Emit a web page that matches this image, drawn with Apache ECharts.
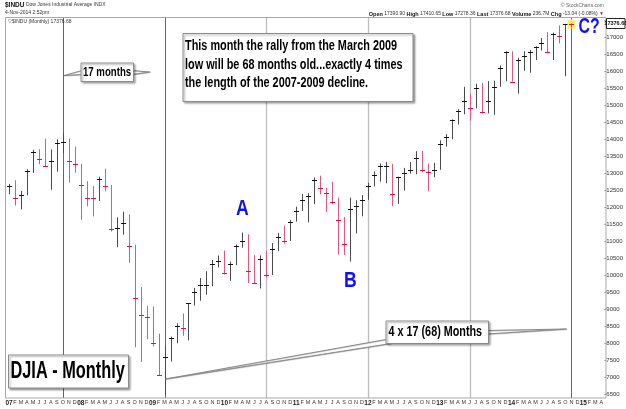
<!DOCTYPE html>
<html><head><meta charset="utf-8">
<script src="https://cdn.jsdelivr.net/npm/echarts@6/dist/echarts.min.js"></script>
<style>html,body{margin:0;padding:0;background:#fff}#c{width:626px;height:409px}</style>
</head><body><div id="c"></div>
<script>
// Month categories Jan 2007 .. Apr 2015
const months = [
'2007-01','2007-02','2007-03','2007-04','2007-05','2007-06','2007-07','2007-08','2007-09','2007-10','2007-11','2007-12',
'2008-01','2008-02','2008-03','2008-04','2008-05','2008-06','2008-07','2008-08','2008-09','2008-10','2008-11','2008-12',
'2009-01','2009-02','2009-03','2009-04','2009-05','2009-06','2009-07','2009-08','2009-09','2009-10','2009-11','2009-12',
'2010-01','2010-02','2010-03','2010-04','2010-05','2010-06','2010-07','2010-08','2010-09','2010-10','2010-11','2010-12',
'2011-01','2011-02','2011-03','2011-04','2011-05','2011-06','2011-07','2011-08','2011-09','2011-10','2011-11','2011-12',
'2012-01','2012-02','2012-03','2012-04','2012-05','2012-06','2012-07','2012-08','2012-09','2012-10','2012-11','2012-12',
'2013-01','2013-02','2013-03','2013-04','2013-05','2013-06','2013-07','2013-08','2013-09','2013-10','2013-11','2013-12',
'2014-01','2014-02','2014-03','2014-04','2014-05','2014-06','2014-07','2014-08','2014-09','2014-10','2014-11','2014-12',
'2015-01','2015-02','2015-03','2015-04'];
const monthLetters = ['J','F','M','A','M','J','J','A','S','O','N','D'];

// Monthly HLC, Jan 2007 .. Nov 2014
const highs = [
12687,12795,12482,13121,13692,13706,14022,13700,14000,14198,14021,13786,
13280,12768,12622,12901,13137,12657,11703,11870,11790,10900,9654,9100,
9088,8281,7925,8197,8588,8878,9172,9631,9918,10119,10450,10580,
10729,10403,10907,11258,11205,10594,10584,10720,10948,11247,11451,11625,
12020,12391,12419,12876,12929,12570,12753,12285,11716,12284,12208,12360,
12721,13055,13289,13338,13280,12901,13159,13331,13653,13662,13290,13308,
13969,14150,14585,14888,15542,15340,15634,15658,15710,15721,16175,16588,
16588,16398,16589,16632,16736,16978,17152,17136,17350,17395,17410];
const lows = [
12381,12050,11939,12354,13010,13266,13200,12518,13047,13599,12725,13021,
11634,12026,11731,12184,12467,11288,10827,11196,10365,7882,7450,8118,
7909,7050,6470,7465,8001,8221,8087,9111,9253,9430,9679,10236,
10021,9836,10297,10812,9774,9757,9614,9937,10010,10711,10929,11008,
11577,11892,11555,12093,12381,11862,12097,10605,10597,10404,11231,11735,
12218,12613,12755,12710,12035,12101,12492,12993,12975,13039,12471,12883,
13104,13784,14000,14434,14737,14551,14911,14760,14760,14720,15545,15704,
15699,15341,16016,15956,16334,16611,16563,16333,16821,15855,17278];
const closes = [
12622,12268,12354,13063,13628,13409,13212,13358,13896,13930,13372,13265,
12650,12266,12263,12820,12638,11350,11378,11544,10851,9325,8829,8776,
8001,7063,7609,8168,8500,8447,9172,9496,9712,9713,10345,10428,
10067,10325,10857,11009,10137,9774,10466,10015,10788,11118,11006,11578,
11892,12226,12320,12811,12570,12414,12143,11614,10913,11955,12046,12218,
12633,12952,13212,13214,12393,12880,13009,13091,13437,13096,13026,13104,
13861,14054,14579,14840,15116,14910,15500,14810,15130,15546,16086,16577,
15699,16322,16458,16581,16717,16827,16563,17098,17043,17391,17377];
const prevClose2006 = 12463;

// Cycle marker months (17-month spacing)
const markerMonths = ['2007-10','2009-03','2010-08','2012-01','2013-06','2014-11'];
const markerShade = ['dark','dark','light','light','light','dark'];

// y-axis ticks
const yMin = 6500, yMax = 17500, yStep = 500;
const plotTopValue = 17597, plotBottomValue = 6391;

const barData = closes.map((c, i) => {
  const prev = i === 0 ? prevClose2006 : closes[i - 1];
  return [i, highs[i], lows[i], c, c >= prev ? 1 : 0];
});
const markerData = markerMonths.map((m, k) => [months.indexOf(m), markerShade[k] === 'dark' ? 1 : 0]);
const lastIdx = closes.length - 1;

const chart = echarts.init(document.getElementById('c'), null, {renderer: 'canvas'});
const FONT = '"Liberation Sans", Arial, sans-serif';
const blue = '#1212ee';

function ctext(x, y, txt, size, scale, extra) {
  return Object.assign({
    type: 'text', x: x, y: y, scaleX: scale, z: 120,
    style: {text: txt, font: 'bold ' + size + 'px ' + FONT, fill: '#000', align: 'left', verticalAlign: 'middle'}
  }, extra || {});
}
function box(x, y, w, h) {
  return {type: 'rect', z: 110, shape: {x: x + 0.5, y: y + 0.5, width: w, height: h},
    style: {fill: '#fff', stroke: '#8a8a8a', lineWidth: 1, shadowColor: 'rgba(0,0,0,0.35)', shadowBlur: 2, shadowOffsetX: 1.5, shadowOffsetY: 1.5}};
}
function tail(points) {
  return {type: 'polygon', z: 105, shape: {points: points},
    style: {fill: '#fff', stroke: '#8a8a8a', lineWidth: 1, shadowColor: 'rgba(0,0,0,0.25)', shadowBlur: 1, shadowOffsetX: 0.5, shadowOffsetY: 0.5}};
}

const option = {
  animation: false,
  textStyle: {fontFamily: FONT},
  grid: {left: 6, right: 20, top: 20.3, bottom: 14.7},
  xAxis: {
    type: 'category', data: months, boundaryGap: true,
    axisLine: {show: false}, axisTick: {show: false}, splitLine: {show: false},
    axisLabel: {
      interval: 0, margin: 5, fontSize: 5.5, color: '#333', fontFamily: FONT,
      formatter: function (v) {
        const mm = parseInt(v.slice(5), 10);
        return mm === 1 ? '{y|' + v.slice(2, 4) + '}' : monthLetters[mm - 1];
      },
      rich: {y: {fontSize: 6.5, fontWeight: 'bold', color: '#222', fontFamily: FONT}}
    }
  },
  yAxis: {
    type: 'value', position: 'right', min: yMin, max: yMax, interval: yStep, scale: true,
    axisLine: {show: false},
    axisTick: {show: true, length: 2, lineStyle: {color: '#999'}},
    splitLine: {show: false},
    axisLabel: {margin: 2, fontSize: 6, color: '#333', fontFamily: FONT,
      formatter: v => (v === yMax ? '' : String(v))}
  },
  series: [
    {
      type: 'custom', name: 'markers', data: markerData, z: 1, clip: false,
      renderItem: function (params, api) {
        const idx = api.value(0);
        const x = Math.round(api.coord([idx, yMin])[0]) + 0.5;
        const yT = api.coord([idx, plotTopValue])[1];
        const yB = api.coord([idx, plotBottomValue])[1];
        const dark = api.value(1) > 0;
        return {type: 'line', shape: {x1: x, y1: yT, x2: x, y2: yB},
          style: {stroke: dark ? '#666' : '#bdbdbd', lineWidth: dark ? 1 : 1.3}};
      }
    },
    {
      type: 'custom', name: '$INDU', data: barData, z: 3, clip: false,
      renderItem: function (params, api) {
        const i = api.value(0);
        const hi = api.coord([i, api.value(1)]);
        const lo = api.coord([i, api.value(2)]);
        const cl = api.coord([i, api.value(3)]);
        const up = api.value(4) > 0;
        const x = Math.round(hi[0]) + 0.5;
        const yc = Math.round(cl[1]) + 0.5;
        const children = [];
        if (i === lastIdx) {
          children.push({type: 'rect', shape: {x: x - 4, y: yc - 5, width: 8, height: 9}, style: {fill: '#ffef6a'}});
        }
        children.push({type: 'line', shape: {x1: x, y1: hi[1], x2: x, y2: lo[1]},
          style: {stroke: up ? '#4a4a4a' : '#e0587c', lineWidth: 1}});
        children.push({type: 'line', shape: {x1: x - 2.5, y1: yc, x2: x + 2.5, y2: yc},
          style: {stroke: up ? '#111' : '#d4124a', lineWidth: 1}});
        return {type: 'group', children: children};
      }
    }
  ],
  graphic: [
    // plot frame
    {type: 'rect', z: 2, shape: {x: 5.5, y: 17.5, width: 600.5, height: 380.5}, style: {fill: 'none', stroke: '#a8a8a8', lineWidth: 1}},
    // header left
    {type: 'text', x: 5, y: 5, z: 120, style: {text: '{b|$INDU} Dow Jones Industrial Average INDX', font: '5px ' + FONT, fill: '#333', verticalAlign: 'middle',
      rich: {b: {fontSize: 6.5, fontWeight: 'bold', fill: '#111', fontFamily: FONT}}}},
    {type: 'text', x: 5, y: 13, z: 120, style: {text: '4-Nov-2014 2:52pm', font: '5px ' + FONT, fill: '#333', verticalAlign: 'middle'}},
    {type: 'text', x: 8, y: 22, z: 120, style: {text: '\u25BD$INDU (Monthly) 17376.68', font: '5px ' + FONT, fill: '#333', verticalAlign: 'middle'}},
    // header right
    {type: 'text', x: 604, y: 6, z: 120, style: {text: '\u00A9 StockCharts.com', font: '5px ' + FONT, fill: '#666', align: 'right', verticalAlign: 'middle'}},
    {type: 'text', x: 604, y: 14, z: 120, style: {
      text: '{b|Open} 17390.90 {b|High} 17410.65 {b|Low} 17278.36 {b|Last} 17376.68 {b|Volume} 236.7M {b|Chg} -13.04 (-0.08%) {r|\u25BC}',
      font: '5px ' + FONT, fill: '#333', align: 'right', verticalAlign: 'middle',
      rich: {b: {fontWeight: 'bold', fontSize: 5.5, fill: '#111', fontFamily: FONT}, r: {fill: '#d4124a', fontSize: 5, fontFamily: FONT}}}},
    // last value tag
    {type: 'rect', z: 120, shape: {x: 606.5, y: 18.5, width: 18.5, height: 10}, style: {fill: '#fff', stroke: '#222', lineWidth: 1}},
    {type: 'text', x: 615.8, y: 23.7, z: 121, style: {text: '17376.68', font: 'bold 5.5px ' + FONT, fill: '#111', align: 'center', verticalAlign: 'middle'}},

    // 17 months callout
    tail([[82, 70.5], [64, 75.5], [82, 74.5]]),
    tail([[132, 70.5], [150, 72], [132, 74.5]]),
    box(80.5, 62.5, 52.5, 18.5),
    ctext(83, 72.3, '17 months', 13, 0.74),

    // main note
    box(182.5, 33, 230, 68),
    ctext(185, 46, 'This month the rally from the March 2009', 15, 0.725),
    ctext(185, 64.5, 'low will be 68 months old...exactly 4 times', 15, 0.725),
    ctext(185, 83, 'the length of the 2007-2009 decline.', 15, 0.725),

    // 4 x 17 callout
    tail([[386, 339.5], [165.5, 379], [391, 343.5]]),
    tail([[487, 330.5], [566.5, 329], [487, 334]]),
    box(385.5, 320.5, 102.5, 22.5),
    ctext(388.5, 332.2, '4 x 17 (68) Months', 15, 0.72),

    // DJIA label
    box(8, 354.5, 120, 33),
    ctext(10.5, 372, 'DJIA - Monthly', 23, 0.71),

    // wave letters
    ctext(236, 209, 'A', 22, 0.8, {style: {text: 'A', font: 'bold 22px ' + FONT, fill: blue, align: 'left', verticalAlign: 'middle'}}),
    ctext(344, 281, 'B', 22, 0.8, {style: {text: 'B', font: 'bold 22px ' + FONT, fill: blue, align: 'left', verticalAlign: 'middle'}}),
    ctext(578.5, 27, 'C?', 22, 0.72, {style: {text: 'C?', font: 'bold 22px ' + FONT, fill: blue, align: 'left', verticalAlign: 'middle'}})
  ]
};
chart.setOption(option);
</script>
</body></html>
